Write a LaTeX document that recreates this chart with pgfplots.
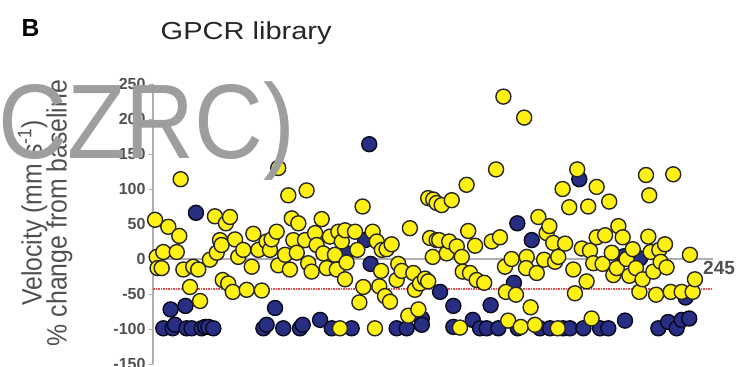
\documentclass[border=0pt]{standalone}
\usepackage{pgfplots}
\pgfplotsset{compat=1.18}
\usepackage{fontspec}
\setmainfont{Liberation Sans}
\definecolor{ylw}{RGB}{255,240,20}
\definecolor{nvy}{RGB}{40,46,132}
\definecolor{tickgray}{RGB}{80,80,80}
\definecolor{axgray}{RGB}{175,175,175}
\definecolor{wm}{RGB}{158,158,158}
\definecolor{redline}{RGB}{240,70,70}
\begin{document}
\begin{tikzpicture}
\useasboundingbox (0,0) rectangle (737pt,-367pt);
\begin{axis}[at={(153pt,-364pt)}, anchor=south west, scale only axis,
  width=560pt, height=280pt,
  xmin=0, xmax=245, ymin=-150, ymax=250,
  axis x line=none, axis y line*=left,
  axis line style={axgray, line width=2.5pt},
  ytick={-150,-100,-50,0,50,100,150,200,250},
  tick style={axgray, line width=1pt}, major tick length=4pt, tick align=outside,
  yticklabel style={font=\bfseries\fontsize{16}{16}\selectfont, text=tickgray},
  /pgf/number format/assume math mode=true,
  clip=false]
\draw[axgray, line width=2.5pt] (axis cs:0,0) -- (axis cs:245,0);
\draw[draw=redline, line width=1.3pt, dash pattern=on 1.5pt off 1pt] (axis cs:0,-43) -- (axis cs:245,-43);
\addplot[only marks, mark=*, mark size=7.5pt, mark options={fill=nvy, draw=black!80!nvy, line width=1.4pt}] coordinates {
(4.5,-99) (7.7,-72) (8.6,-99) (9.6,-94) (14.2,-67) (14.7,-99) (16.9,-99) (18.8,66) (21.3,-99) (22.8,-97) (24.2,-97) (26.4,-99) (48.3,-99) (49.7,-94) (53.4,-70) (57,-99) (64.3,-99) (65.5,-94) (73.1,-87) (78.2,-99) (84.7,8) (86.9,-99) (92.8,27) (94.6,164) (95.2,-7) (106.6,-99) (111,-99) (117.6,-85) (117.6,-94) (125.6,-47) (131.4,-67) (131.4,-97) (139.9,-87) (143.1,-99) (146,-99) (147.7,-66) (151.1,-99) (157.9,-34) (159.4,51) (159.6,-99) (165.7,27) (169.3,-99) (173.7,-99) (179.4,-99) (182.4,-99) (186.5,114) (188.3,-99) (195.6,-99) (199.2,-99) (206.1,4) (206.5,-88) (213.1,1) (221.1,-99) (225.4,-90) (229.1,-99) (231.3,-87) (233,-55) (234.6,-85)
};
\addplot[only marks, mark=*, mark size=7.5pt, mark options={fill=ylw, draw=black!85, line width=1.4pt}] coordinates {
(0.9,56) (1.6,3) (2,-13) (3.8,-13) (4.5,10) (6.7,46) (10.4,10) (11.5,33) (12.1,114) (13.3,-15) (16.2,-40) (17.6,-11) (19.8,-15) (20.6,-60) (24.9,-1) (27.1,61) (27.9,9) (29.3,27) (30,20) (30.5,-30) (31.9,51) (32.9,-35) (33.7,60) (34.9,-47) (35.9,28) (37.3,3) (39.5,13) (41,-44) (43.2,-11) (43.9,36) (46.1,13) (47.6,-45) (49.7,25) (51.2,13) (51.9,28) (54.1,39) (54.8,130) (54.8,-9) (57.8,6) (59.2,91) (59.9,-15) (60.7,58) (61.4,27) (62.9,9) (63.6,51) (66.5,27) (67.2,98) (67.9,-6) (69.4,-18) (70.9,37) (71.6,20) (73.8,57) (74.5,8) (76,-13) (77.4,32) (79.6,6) (80.4,-15) (81.1,39) (82.6,25) (84,-29) (84,41) (84.7,-5) (88.4,39) (89.4,13) (90.3,-62) (91.7,75) (92,-40) (96.1,39) (97.9,25) (99,-39) (99.8,-17) (100.1,13) (101.5,-53) (102.2,14) (103.7,-61) (104.4,21) (106.6,-30) (107.3,-7) (108.8,-17) (112.4,44) (113.9,-20) (114.6,-44) (116.8,-35) (119,-28) (120.4,87) (120.4,-32) (121.2,30) (122.4,3) (122.6,85) (124.1,80) (124.1,27) (125.2,27) (126.3,77) (128.5,8) (129.6,25) (130.7,84) (132.9,18) (135.1,3) (135.5,-18) (137.2,106) (137.9,40) (138.7,-20) (140.9,19) (141.6,-30) (144.9,-34) (148.2,25) (150.1,128) (151.8,31) (153.3,232) (154,-11) (154.4,-47) (156.9,0) (158.8,-51) (162.4,202) (163.5,3) (163.2,-13) (165.2,-69) (167.9,-20) (168.6,60) (171.1,-1) (172.2,37) (173.4,47) (175.1,23) (175.9,-4) (177.3,3) (179.2,100) (180.3,22) (182.1,74) (183.9,-15) (184.6,-49) (185.6,128) (187.6,15) (189.7,-32) (190.4,75) (191.2,12) (192.6,-6) (194.1,103) (194.1,31) (196.7,-7) (197.8,34) (199.6,82) (200.7,9) (201.4,-23) (202.9,-13) (203.6,47) (205.5,31) (207.2,0) (208.4,-24) (209.9,14) (211.3,-13) (212.8,-47) (214.2,-29) (215.7,120) (216.7,32) (217.1,91) (217.7,10) (218.9,-18) (220.1,-51) (221.5,13) (222.1,-4) (224,21) (224.7,-12) (226.5,-47) (227.6,121) (231.3,-47) (234.9,6) (236.1,-47) (237.1,-29)
(81.8,-99) (97.1,-99) (111.7,-81) (116.1,-72) (134.3,-98) (155.4,-88) (160.9,-97) (167.1,-94) (177.1,-99) (191.9,-85)
};
\end{axis}
\node[anchor=west, inner sep=0pt, font=\bfseries\fontsize{19}{19}\selectfont, text=tickgray] at (703pt,-268pt) {245};
\node[anchor=base west, inner sep=0pt, font=\bfseries\fontsize{24.7}{26}\selectfont] at (21.5pt,-36pt) {B};
\node[anchor=base west, inner sep=0pt, xscale=1.18, font=\fontsize{24.6}{26}\selectfont, text=black!85] at (160.5pt,-39.3pt) {GPCR library};
\node[rotate=90, yscale=1.13, anchor=base, inner sep=0pt, font=\fontsize{24.8}{26}\selectfont, text=tickgray] at (41.7pt,-213pt) {Velocity (mm s\textsuperscript{-1})};
\node[rotate=90, yscale=1.13, anchor=base, inner sep=0pt, font=\fontsize{24.8}{26}\selectfont, text=tickgray] at (66.7pt,-213pt) {\% change from baseline};
\node[anchor=base west, inner sep=0pt, xscale=0.9, font=\fontsize{106}{110}\selectfont, text=wm] at (-2pt,-158pt) {CZRC)};
\end{tikzpicture}
\end{document}
